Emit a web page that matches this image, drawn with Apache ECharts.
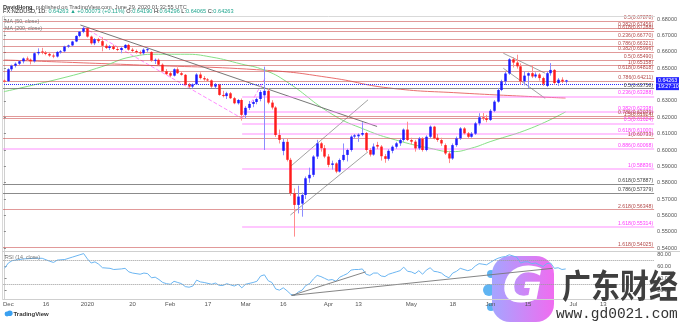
<!DOCTYPE html>
<html>
<head>
<meta charset="utf-8">
<script src="https://cdn.jsdelivr.net/npm/echarts@6/dist/echarts.min.js"></script>
<style>
html,body{margin:0;padding:0;background:#fff;}
#chart{width:680px;height:322px;}
</style>
</head>
<body>
<div id="chart"></div>
<script>
// ---- sessions (weekdays, desk closed on Christmas and New Year's Day) ----
const sessionStart = '2019-11-29';
const closedDays = ['2019-12-25', '2020-01-01'];
const sessionTotal = 173;

// ---- date axis labels ----
const dateTicks = [
  ['2019-12-02', 'Dec'], ['2019-12-16', '16'], ['2020-01-02', '2020'], ['2020-01-20', '20'],
  ['2020-02-03', 'Feb'], ['2020-02-17', '17'], ['2020-03-02', 'Mar'], ['2020-03-16', '16'],
  ['2020-04-01', 'Apr'], ['2020-04-13', '13'], ['2020-05-01', 'May'], ['2020-05-18', '18'],
  ['2020-06-01', 'Jun'], ['2020-06-15', '15'], ['2020-07-01', 'Jul'], ['2020-07-13', '13']
];

// ---- NZDUSD daily candles, session 0 = 2019-11-29 ----
const openPx = [
  .6425,.6421,.6494,.6516,.6528,.6543,.6560,.6553,.6543,.6592,
  .6603,.6596,.6588,.6578,.6572,.6598,.6604,.6633,.6640,.6664,
  .6698,.6724,.6745,.6694,.6653,.6678,.6666,.6638,.6624,.6634,
  .6618,.6612,.6624,.6643,.6614,.6606,.6598,.6592,.6614,.6600,
  .6548,.6552,.6522,.6482,.6470,.6455,.6494,.6470,.6460,.6400,
  .6388,.6402,.6462,.6440,.6432,.6426,.6388,.6400,.6337,.6330,
  .6347,.6317,.6286,.6306,.6215,.6258,.6282,.6294,.6312,.6335,
  .6362,.6290,.6260,.6092,.5995,.6050,.5940,.5735,.5664,.5672,
  .5725,.5827,.5848,.5960,.6041,.6011,.5960,.5909,.5918,.5868,
  .5939,.5970,.6000,.6082,.6084,.6094,.6104,.6000,.5972,.6031,
  .6021,.5962,.5946,.5995,.6020,.6041,.6061,.6125,.6061,.6051,
  .6010,.6070,.6000,.6081,.6143,.6075,.6061,.6030,.5979,.5948,
  .6030,.6071,.6132,.6102,.6081,.6100,.6163,.6200,.6194,.6184,
  .6240,.6296,.6367,.6420,.6468,.6555,.6535,.6512,.6420,.6455,
  .6470,.6450,.6462,.6440,.6392,.6470,.6490,.6410,.6430,.64190
];
const highPx = [
  .6432,.6500,.6522,.6536,.6548,.6566,.6572,.6560,.6600,.6622,
  .6625,.6606,.6600,.6590,.6605,.6612,.6638,.6645,.6668,.6702,
  .6728,.6756,.6748,.6700,.6685,.6686,.6690,.6650,.6642,.6645,
  .6636,.6630,.6648,.6650,.6625,.6615,.6608,.6622,.6626,.6604,
  .6560,.6560,.6530,.6495,.6482,.6500,.6506,.6482,.6465,.6410,
  .6408,.6470,.6475,.6452,.6440,.6432,.6410,.6405,.6362,.6356,
  .6355,.6325,.6312,.6315,.6268,.6300,.6305,.6320,.6366,.6510,
  .6378,.6305,.6268,.6125,.6068,.6072,.5952,.5765,.5782,.5740,
  .5838,.5892,.5968,.6062,.6050,.6030,.5975,.5935,.5925,.5948,
  .6040,.6008,.6090,.6098,.6102,.6170,.6110,.6012,.6040,.6050,
  .6030,.5975,.6005,.6028,.6050,.6072,.6132,.6173,.6075,.6062,
  .6080,.6078,.6090,.6150,.6148,.6098,.6075,.6040,.5995,.6040,
  .6082,.6140,.6140,.6110,.6110,.6172,.6225,.6226,.6215,.6250,
  .6305,.6380,.6430,.6478,.6562,.6568,.6583,.6530,.6482,.6475,
  .6520,.6475,.6470,.6448,.6478,.6532,.6495,.6440,.6445,.64296
];
const lowPx = [
  .6414,.6416,.6482,.6505,.6520,.6530,.6545,.6524,.6535,.6580,
  .6586,.6580,.6570,.6562,.6566,.6590,.6598,.6625,.6635,.6660,
  .6690,.6715,.6688,.6645,.6642,.6655,.6604,.6618,.6612,.6612,
  .6605,.6592,.6620,.6608,.6596,.6590,.6584,.6582,.6600,.6540,
  .6526,.6518,.6478,.6460,.6445,.6450,.6465,.6455,.6395,.6380,
  .6378,.6398,.6432,.6424,.6420,.6380,.6376,.6332,.6322,.6312,
  .6312,.6280,.6278,.6180,.6196,.6245,.6262,.6280,.6298,.6000,
  .6280,.6248,.6080,.6040,.5968,.5930,.5720,.5470,.5612,.5592,
  .5700,.5800,.5835,.5945,.5990,.5950,.5895,.5880,.5858,.5862,
  .5930,.5930,.5990,.6070,.6050,.6085,.5990,.5960,.5965,.6005,
  .5935,.5922,.5935,.5980,.6008,.6025,.6050,.6055,.6035,.5990,
  .6000,.5990,.5992,.6072,.6065,.6050,.6025,.5970,.5920,.5940,
  .6020,.6062,.6095,.6070,.6075,.6092,.6150,.6180,.6170,.6178,
  .6232,.6290,.6360,.6398,.6460,.6505,.6498,.6400,.6395,.6380,
  .6440,.6440,.6425,.6392,.6385,.6455,.6400,.6392,.6410,.64065
];
const closePx = [
  .6421,.6494,.6516,.6528,.6543,.6560,.6553,.6543,.6592,.6600,
  .6596,.6588,.6578,.6572,.6600,.6604,.6633,.6640,.6664,.6698,
  .6724,.6745,.6694,.6653,.6678,.6666,.6638,.6624,.6634,.6618,
  .6612,.6624,.6643,.6614,.6606,.6598,.6592,.6614,.6617,.6548,
  .6552,.6522,.6482,.6464,.6455,.6494,.6470,.6460,.6400,.6388,
  .6402,.6462,.6440,.6432,.6426,.6388,.6400,.6337,.6330,.6347,
  .6317,.6286,.6306,.6215,.6258,.6282,.6294,.6312,.6355,.6362,
  .6290,.6260,.6092,.6062,.6050,.5940,.5735,.5664,.5715,.5725,
  .5827,.5848,.5960,.6041,.6011,.5960,.5909,.5918,.5868,.5939,
  .5970,.6000,.6082,.6090,.6094,.6104,.6000,.5972,.6021,.6021,
  .5962,.5946,.5995,.6020,.6041,.6061,.6125,.6061,.6051,.6010,
  .6070,.6000,.6081,.6143,.6071,.6061,.6040,.5979,.5948,.6030,
  .6071,.6132,.6102,.6081,.6100,.6163,.6200,.6194,.6184,.6240,
  .6296,.6367,.6420,.6468,.6555,.6535,.6512,.6420,.6455,.6470,
  .6450,.6462,.6440,.6405,.6470,.6490,.6410,.6430,.64190,.64263
];

// ---- moving averages, [session, price] ----
const ma50 = [[0,.6357],[17,.6449],[26,.6510],[34,.6571],[41,.6586],[48,.6586],[55,.6569],[63,.6526],
  [69,.6490],[75,.6418],[87,.6220],[96,.6123],[104,.6061],[113,.6011],[119,.5990],[124,.6011],
  [129,.6051],[140,.6135],[149,.6233]];
const ma200 = [[0,.6551],[36,.6520],[70,.6487],[87,.6441],[102,.6380],[121,.6349],[149,.6318]];

// ---- RSI(14), [session, value] ----
const rsi14 = [[0,57],[1,66],[2,70],[3,71],[5,73],[8,74],[10,74],[12,69],[13,67],[14,71],[16,72],[18,76],
  [20,80],[21,82],[22,73],[23,66],[24,68],[25,64],[26,58],[28,57],[29,55],[31,56],[32,57],[33,51],[34,49],
  [36,47],[37,49],[38,48],[39,41],[40,42],[41,38],[42,33],[43,31],[44,30],[45,35],[46,33],[47,31],[48,26],
  [49,25],[50,27],[51,37],[52,34],[53,33],[55,30],[56,32],[57,28],[58,28],[59,31],[60,29],[61,27],[62,30],
  [63,24],[64,30],[66,33],[67,35],[68,44],[69,46],[70,36],[71,33],[72,22],[73,20],[74,24],[75,19],[76,13],
  [77,11],[78,17],[79,20],[80,28],[81,31],[82,39],[83,45],[84,43],[85,40],[86,37],[87,38],[88,35],[89,42],
  [90,45],[91,48],[92,54],[93,55],[94,55],[95,56],[96,47],[97,45],[98,49],[99,49],[100,44],[101,43],[102,47],
  [103,49],[104,51],[105,53],[106,59],[107,52],[108,51],[109,48],[110,53],[111,47],[112,54],[113,58],[114,52],
  [115,51],[116,49],[117,44],[118,41],[119,49],[120,52],[121,57],[122,55],[123,53],[124,55],[125,61],[126,65],
  [127,64],[128,63],[129,67],[130,71],[131,74],[132,76],[133,77],[134,80],[135,78],[136,76],[137,66],[138,68],
  [139,68],[140,65],[141,66],[142,63],[143,60],[144,65],[145,66],[146,57],[147,58],[148,55],[149,56]];

// ---- Fibonacci levels drawn on the chart: [label, price, first session] ----
const fibRed = [
  ['0.5(0.67878)', 0.67878], ['0.382(0.67456)', 0.67456], ['0.618(0.67288)', 0.67288],
  ['0.236(0.66770)', 0.66770], ['0.786(0.66321)', 0.66321], ['0.382(0.65996)', 0.65996],
  ['0.5(0.65490)', 0.65490], ['1(0.65158)', 0.65158], ['0.618(0.64818)', 0.64818],
  ['0.786(0.64211)', 0.64211], ['0.786(0.62079)', 0.62079], ['1.5(0.61924)', 0.61924],
  ['1(0.60733)', 0.60733], ['2.618(0.56348)', 0.56348], ['1.618(0.54025)', 0.54025]
];
const fibPink = [
  ['0.236(0.63288)', 0.63288, 63.2], ['0.382(0.62338)', 0.62338, 63.2], ['0.5(0.61624)', 0.61624, 63.2],
  ['0.618(0.61000)', 0.61000, 63.2], ['0.886(0.60068)', 0.60068, -0.5], ['1(0.58836)', 0.58836, 63.2],
  ['1.618(0.55314)', 0.55314, 63.2]
];
const fibGrey = [
  ['0.5(0.63758)', 0.63758], ['0.618(0.57887)', 0.57887], ['0.786(0.57379)', 0.57379]
];

// ---- hand-drawn trend lines, [session, price] ----
const trendDown = [[20.3,.6765],[99,.6144]];
const pinkDashDown = [[21.1,.6751],[63.2,.6193]];
const pinkDashUp = [[63.2,.6193],[69.3,.6440]];
const channelLow = [[76,.5602],[96.6,.5989]];
const channelHigh = [[76.1,.5901],[96.6,.6307]];
const juneUpper = [[132.5,.6592],[143.6,.6470]];
const juneLower = [[132.5,.6500],[143.6,.6316]];
const rsiTrendA = [[76.2,11],[95.9,51]];
const rsiTrendB = [[76.2,11],[145.5,57]];

const priceTicks = [0.54,0.55,0.56,0.57,0.58,0.59,0.60,0.61,0.62,0.63,0.65,0.66,0.67,0.68];
const rsiTicks = [20,40,60,80];

// ---------------------------------------------------------------------------
function buildSessions() {
  const out = [];
  const d = new Date(sessionStart + 'T00:00:00Z');
  while (out.length < sessionTotal) {
    const wd = d.getUTCDay();
    const s = d.toISOString().slice(0, 10);
    if (wd !== 0 && wd !== 6 && closedDays.indexOf(s) < 0) out.push(s);
    d.setUTCDate(d.getUTCDate() + 1);
  }
  return out;
}
const sessions = buildSessions();
const tickMap = new Map(dateTicks);
const candles = openPx.map((o, i) => [i, o, closePx[i], lowPx[i], highPx[i]]);
const last = openPx.length - 1;

const FONT = 'Liberation Sans, Arial, sans-serif';
const X_END = sessionTotal - 0.5;

function level(label, price, from, lineColor, textColor, width) {
  return [
    { coord: [from, price],
      lineStyle: { color: lineColor, width: width, type: 'solid' },
      label: { show: true, formatter: label, position: 'insideEndTop', distance: 1,
               color: textColor, fontSize: 5.2, fontFamily: FONT } },
    { coord: [X_END, price] }
  ];
}
const levelLines = []
  .concat(fibRed.map(f => level(f[0], f[1], -0.5, 'rgba(200,70,70,0.55)', '#b34a4a', 1)))
  .concat(fibPink.map(f => level(f[0], f[1], f[2], 'rgba(255,120,255,0.55)', '#ff3cff', 1.6)))
  .concat(fibGrey.map(f => level(f[0], f[1], -0.5, 'rgba(110,110,110,0.8)', '#444', 1)));

function drawing(data, color, type, width, xi, yi) {
  return { type: 'line', xAxisIndex: xi || 1, yAxisIndex: yi || 0, data: data, symbol: 'none',
    silent: true, animation: false, z: 4,
    lineStyle: { color: color, width: width || 1, type: type || 'solid' } };
}

const chart = echarts.init(document.getElementById('chart'), null, { width: 680, height: 322 });

const option = {
  animation: false,
  backgroundColor: '#ffffff',
  grid: [
    { left: 2, top: 16, width: 652.2, height: 235 },
    { left: 2, top: 252, width: 652.2, height: 47 }
  ],
  xAxis: [
    { type: 'category', gridIndex: 0, data: sessions, boundaryGap: true, show: false },
    { type: 'value', gridIndex: 0, min: -0.5, max: X_END, show: false },
    { type: 'category', gridIndex: 1, data: sessions, boundaryGap: true,
      axisLine: { show: true, lineStyle: { color: '#cfcfcf', width: 1 } },
      axisTick: { show: false },
      axisLabel: { interval: (idx, val) => tickMap.has(val), formatter: v => tickMap.get(v) || '',
                   fontSize: 6, color: '#555', fontFamily: FONT, margin: 2 } },
    { type: 'value', gridIndex: 1, min: -0.5, max: X_END, show: false }
  ],
  yAxis: [
    { type: 'value', gridIndex: 0, position: 'right', min: 0.5382, max: 0.6820, scale: true,
      splitLine: { show: false },
      axisLine: { show: true, lineStyle: { color: '#cfcfcf' } },
      axisTick: { show: true, length: 2, customValues: priceTicks, lineStyle: { color: '#888' } },
      axisLabel: { customValues: priceTicks, formatter: v => v.toFixed(5), fontSize: 5.5,
                   color: '#555', fontFamily: FONT, margin: 3 } },
    { type: 'value', gridIndex: 1, position: 'right', min: 5, max: 84.7,
      splitLine: { show: false },
      axisLine: { show: true, lineStyle: { color: '#cfcfcf' } },
      axisTick: { show: true, length: 2, customValues: rsiTicks, lineStyle: { color: '#888' } },
      axisLabel: { customValues: rsiTicks, formatter: v => v.toFixed(2), fontSize: 5.5,
                   color: '#555', fontFamily: FONT, margin: 3 } }
  ],
  series: [
    { type: 'line', name: 'levels', xAxisIndex: 1, yAxisIndex: 0, data: [], z: 2, silent: true,
      markLine: { symbol: ['none', 'none'], silent: true, animation: false, data: levelLines } },
    { type: 'line', name: 'MA 200', xAxisIndex: 1, yAxisIndex: 0, data: ma200, smooth: true,
      symbol: 'none', z: 3, lineStyle: { color: '#ea6f6f', width: 1 } },
    { type: 'line', name: 'MA 50', xAxisIndex: 1, yAxisIndex: 0, data: ma50, smooth: true,
      symbol: 'none', z: 3, lineStyle: { color: '#86e086', width: 1 } },
    drawing(trendDown, '#777', 'solid', 1),
    drawing(pinkDashDown, '#ff8cff', 'dashed', 1),
    drawing(pinkDashUp, '#ff8cff', 'dashed', 1),
    drawing(channelLow, '#8a8a8a', 'solid', 0.8),
    drawing(channelHigh, '#8a8a8a', 'solid', 0.8),
    drawing(juneUpper, '#8a8a8a', 'solid', 0.8),
    drawing(juneLower, '#8a8a8a', 'solid', 0.8),
    { type: 'custom', name: 'NZDUSD', xAxisIndex: 0, yAxisIndex: 0, data: candles, z: 5,
      encode: { x: 0, y: [1, 2, 3, 4] },
      renderItem: function (params, api) {
        const i = api.value(0), o = api.value(1), c = api.value(2), l = api.value(3), h = api.value(4);
        const pO = api.coord([i, o]), pC = api.coord([i, c]);
        const pL = api.coord([i, l]), pH = api.coord([i, h]);
        const w = api.size([1, 0])[0] * 0.66;
        const up = c >= o;
        const x = Math.round(pO[0]) + 0.5;
        const top = Math.min(pO[1], pC[1]), bot = Math.max(pO[1], pC[1]);
        return { type: 'group', children: [
          { type: 'line', shape: { x1: x, y1: pH[1], x2: x, y2: pL[1] },
            style: { stroke: up ? '#8c8cff' : '#ff8c8c', lineWidth: 1 } },
          { type: 'rect', shape: { x: x - w / 2, y: top, width: w, height: Math.max(bot - top, 1) },
            style: { fill: up ? '#1c1cff' : '#ff1c1c' } }
        ] };
      },
      markLine: { symbol: ['none', 'none'], silent: true, animation: false,
        data: [{ yAxis: closePx[last], lineStyle: { color: '#2c2cff', type: 'dotted', width: 1 }, label: { show: false } }] } },
    { type: 'line', name: 'RSI', xAxisIndex: 3, yAxisIndex: 1, data: rsi14, symbol: 'none', z: 3,
      lineStyle: { color: '#6cb6f2', width: 1 },
      markLine: { symbol: ['none', 'none'], silent: true, animation: false, label: { show: false },
        lineStyle: { color: '#9a9a9a', type: 'dotted', width: 1 },
        data: [{ yAxis: 70 }, { yAxis: 30 }] } },
    drawing(rsiTrendA, '#777', 'solid', 0.9, 3, 1),
    drawing(rsiTrendB, '#777', 'solid', 0.9, 3, 1)
  ]
};
chart.setOption(option);

// ---- overlays: header, pane frame, price tags, credits ----
const yLast = chart.convertToPixel({ yAxisIndex: 0 }, closePx[last]);
const chg = closePx[last] - closePx[last - 1];
const fmt = v => v.toFixed(5);
const header1 = '{b|DavidHong} {n|published on TradingView.com, June 29, 2020 01:32:55 UTC}';
const header2 = '{k|FX:NZDUSD, 1D: }{g|' + fmt(closePx[last]) + ' \u25B2 +' + fmt(chg) + ' (+' +
  (chg / closePx[last - 1] * 100).toFixed(2) + '%)}{k| O:}{g|' + fmt(openPx[last]) + '}{k| H:}{g|' +
  fmt(highPx[last]) + '}{k| L:}{g|' + fmt(lowPx[last]) + '}{k| C:}{g|' + fmt(closePx[last]) + '}';

chart.setOption({
  graphic: [
    { type: 'text', x: 3, y: 1, z: 10, style: { text: header1, fontFamily: FONT, rich: {
        b: { fontSize: 5.6, fontWeight: 'bold', fill: '#333', fontFamily: FONT },
        n: { fontSize: 5.6, fill: '#555', fontFamily: FONT } } } },
    { type: 'text', x: 3, y: 8.5, z: 10, style: { text: header2, fontFamily: FONT, rich: {
        k: { fontSize: 5.6, fill: '#222', fontFamily: FONT },
        g: { fontSize: 5.6, fill: '#21a68f', fontFamily: FONT } } } },
    { type: 'text', x: 5, y: 19.5, z: 10, style: { text: 'MA (50, close)', fontSize: 5.3, fill: '#777', fontFamily: FONT } },
    { type: 'text', x: 5, y: 26.5, z: 10, style: { text: 'MA (200, close)', fontSize: 5.3, fill: '#777', fontFamily: FONT } },
    { type: 'text', x: 5, y: 255, z: 10, style: { text: 'RSI (14, close)', fontSize: 5.3, fill: '#777', fontFamily: FONT } },
    // pane frame
    { type: 'line', z: 9, shape: { x1: 2, y1: 16.5, x2: 655, y2: 16.5 }, style: { stroke: '#d9d9d9', lineWidth: 1 } },
    { type: 'line', z: 9, shape: { x1: 2.5, y1: 16, x2: 2.5, y2: 299 }, style: { stroke: '#d9d9d9', lineWidth: 1 } },
    { type: 'line', z: 9, shape: { x1: 2, y1: 251.5, x2: 680, y2: 251.5 }, style: { stroke: '#cfcfcf', lineWidth: 1 } },
    // last price and countdown tags
    { type: 'rect', z: 11, shape: { x: 656, y: yLast - 3.2, width: 23, height: 6.4 }, style: { fill: '#2222ff' } },
    { type: 'text', z: 12, x: 658, y: yLast, style: { text: fmt(closePx[last]), fontSize: 5.3, fill: '#fff',
        fontFamily: FONT, verticalAlign: 'middle' } },
    { type: 'rect', z: 11, shape: { x: 656, y: yLast + 3.4, width: 23, height: 6.4 }, style: { fill: '#2222ff' } },
    { type: 'text', z: 12, x: 658, y: yLast + 6.6, style: { text: '19:27:10', fontSize: 5.3, fill: '#fff',
        fontFamily: FONT, verticalAlign: 'middle' } },
    // TradingView credit
    { type: 'circle', z: 10, shape: { cx: 7, cy: 314, r: 2.4 }, style: { fill: '#3aa0f0' } },
    { type: 'circle', z: 10, shape: { cx: 9.8, cy: 313.2, r: 2.8 }, style: { fill: '#3aa0f0' } },
    { type: 'text', z: 10, x: 13.5, y: 314, style: { text: 'TradingView', fontSize: 6, fontWeight: 'bold',
        fill: '#333', fontFamily: FONT, verticalAlign: 'middle' } },
    // site mark
    { type: 'group', z: 20, children: [
      { type: 'circle', shape: { cx: 491, cy: 274, r: 4 }, style: { fill: '#5fb4f2' } },
      { type: 'circle', shape: { cx: 489, cy: 290, r: 6 }, style: { fill: '#5fb4f2' } },
      { type: 'circle', shape: { cx: 491, cy: 307, r: 4 }, style: { fill: '#5fb4f2' } },
      { type: 'rect', shape: { x: 492, y: 256, width: 62, height: 66, r: 18 },
        style: { fill: new echarts.graphic.LinearGradient(0, 0, 1, 0, [
          { offset: 0, color: '#a5a5ff' }, { offset: 1, color: '#f06cf0' }]) } },
      { type: 'text', x: 523, y: 289, style: { text: 'G', fontSize: 50, fontWeight: 'bold', fontStyle: 'italic',
          fill: '#ffffff', fontFamily: 'DejaVu Sans', align: 'center', verticalAlign: 'middle' } }
    ] },
    { type: 'text', z: 20, x: 562, y: 285, scaleY: 1.15, originX: 0, originY: 0,
      style: { text: '广东财经', fontSize: 29, fontWeight: 'bold', fill: '#3f3f3f',
        fontFamily: 'Noto Sans CJK SC', verticalAlign: 'middle' } },
    { type: 'text', z: 20, x: 556, y: 314, style: { text: 'www.gd0021.com', fontSize: 14.5, fill: '#333',
        fontFamily: 'Liberation Mono', verticalAlign: 'middle' } }
  ]
});
</script>
</body>
</html>
